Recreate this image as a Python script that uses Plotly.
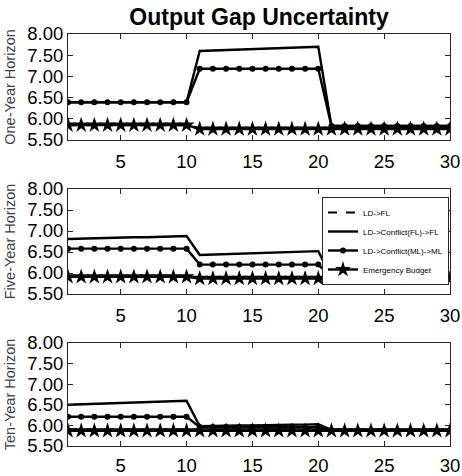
import plotly.graph_objects as go

periods = list(range(1, 31))

# One-Year Horizon
ld_fl_1 = [5.85] * 10 + [5.78] * 20
conf_fl_1 = [6.39] * 10 + [7.60, 7.61, 7.62, 7.63, 7.64, 7.65, 7.66, 7.67, 7.68, 7.70] + [5.83] * 10
conf_ml_1 = [6.39] * 10 + [7.18] * 10 + [5.83] * 10
emerg_1 = [5.85] * 10 + [5.76] * 20

# Five-Year Horizon
ld_fl_2 = [5.91] * 10 + [5.88] * 20
conf_fl_2 = [6.81, 6.82, 6.83, 6.83, 6.84, 6.85, 6.85, 6.86, 6.87, 6.88] + \
            [6.43, 6.44, 6.45, 6.46, 6.47, 6.48, 6.49, 6.50, 6.51, 6.52] + [5.90] * 10
conf_ml_2 = [6.58] * 10 + [6.20] * 10 + [5.90] * 10
emerg_2 = [5.91] * 10 + [5.87] * 20

# Ten-Year Horizon
ld_fl_3 = [5.90] * 30
conf_fl_3 = [6.50, 6.51, 6.52, 6.53, 6.54, 6.55, 6.56, 6.57, 6.58, 6.60] + \
            [5.98, 5.99, 5.99, 6.00, 6.00, 6.01, 6.01, 6.02, 6.02, 6.03] + [5.89] * 10
conf_ml_3 = [6.21] * 10 + [5.96] * 10 + [5.88] * 10
emerg_3 = [5.87] * 30

panels = [
    ("One-Year Horizon", ld_fl_1, conf_fl_1, conf_ml_1, emerg_1),
    ("Five-Year Horizon", ld_fl_2, conf_fl_2, conf_ml_2, emerg_2),
    ("Ten-Year Horizon", ld_fl_3, conf_fl_3, conf_ml_3, emerg_3),
]
series_names = ["LD->FL", "LD->Conflict(FL)->FL", "LD->Conflict(ML)->ML", "Emergency Budget"]
y_ticks = [5.50, 6.00, 6.50, 7.00, 7.50, 8.00]
x_ticks = [5, 10, 15, 20, 25, 30]

W, H = 462, 476
x0, x1 = 68, 450
pix_rows = [(34, 140), (189, 294), (343, 446)]
label_standoff = [5, 5, 3]
axcol = "#262626"
font_family = "Liberation Sans, Arial, sans-serif"

fig = go.Figure()
for i, (label, ldfl, cfl, cml, em) in enumerate(panels):
    xa = "x" if i == 0 else f"x{i+1}"
    ya = "y" if i == 0 else f"y{i+1}"
    show = (i == 1)
    fig.add_trace(go.Scatter(x=periods, y=ldfl, mode="lines", name=series_names[0],
                             line=dict(color="black", width=2, dash="dash"),
                             xaxis=xa, yaxis=ya, showlegend=show, legendrank=1))
    fig.add_trace(go.Scatter(x=periods, y=cfl, mode="lines", name=series_names[1],
                             line=dict(color="black", width=2.4),
                             xaxis=xa, yaxis=ya, showlegend=show, legendrank=2))
    fig.add_trace(go.Scatter(x=periods, y=cml, mode="lines+markers", name=series_names[2],
                             line=dict(color="black", width=2.4),
                             marker=dict(symbol="circle", size=6, color="black"),
                             xaxis=xa, yaxis=ya, showlegend=show, legendrank=3))
    fig.add_trace(go.Scatter(x=periods, y=em, mode="lines+markers", name=series_names[3],
                             line=dict(color="black", width=2.4),
                             marker=dict(symbol="star", size=12, color="black"),
                             xaxis=xa, yaxis=ya, showlegend=show, legendrank=4))

    top, bot = pix_rows[i]
    common = dict(showline=True, linecolor=axcol, linewidth=1, mirror="allticks",
                  ticks="inside", ticklen=5, tickcolor=axcol, showgrid=False, zeroline=False,
                  automargin=False,
                  tickfont=dict(family=font_family, size=18.5, color="black"))
    fig.layout[("xaxis" if i == 0 else f"xaxis{i+1}")] = dict(
        domain=[x0 / W, x1 / W], range=[1, 30], tickvals=x_ticks, anchor=ya,
        ticklabelstandoff=label_standoff[i], **common)
    fig.layout[("yaxis" if i == 0 else f"yaxis{i+1}")] = dict(
        domain=[1 - bot / H, 1 - top / H], range=[5.5, 8.0], tickvals=y_ticks,
        ticktext=[f"{v:.2f}" for v in y_ticks], anchor=xa,
        title=dict(text=label, font=dict(family=font_family, size=14.5, color="#404040"), standoff=8),
        **common)

fig.update_layout(
    template="none",
    width=W, height=H,
    margin=dict(l=0, r=0, t=0, b=0),
    plot_bgcolor="white", paper_bgcolor="white",
    title=dict(text="<b>Output Gap Uncertainty</b>", x=(x0 + x1) / 2 / W, xanchor="center",
               y=1 - 17 / H, yanchor="middle",
               font=dict(family=font_family, size=23, color="black")),
    legend=dict(x=322 / W, y=1 - 197 / H, xanchor="left", yanchor="top",
                bgcolor="white", bordercolor=axcol, borderwidth=1,
                font=dict(family=font_family, size=8, color="black"),
                tracegroupgap=0, itemwidth=30),
    showlegend=True,
    hovermode=False,
)

fig.write_html("out.html",
               config={"displayModeBar": False, "staticPlot": True},
               post_script="document.body.style.margin='0';document.body.style.padding='0';"
                           "document.body.style.overflow='hidden';")
